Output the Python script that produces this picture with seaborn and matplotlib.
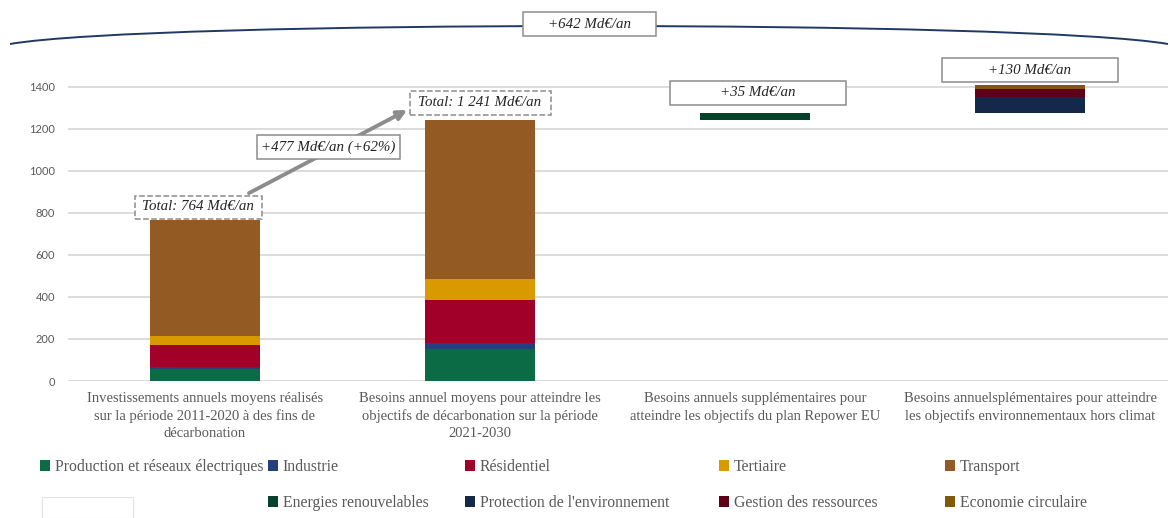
import numpy as np
import pandas as pd
import seaborn as sns
import matplotlib.pyplot as plt
from matplotlib.patches import Patch, Rectangle, PathPatch
from matplotlib.path import Path

# --- data (Md€/an) ---
categories = [
    "Investissements annuels moyens réalisés\nsur la période 2011-2020 à des fins de\ndécarbonation",
    "Besoins annuel moyens pour atteindre les\nobjectifs de décarbonation sur la période\n2021-2030",
    "Besoins annuels supplémentaires pour\natteindre les objectifs du plan Repower EU",
    "Besoins annuelsplémentaires pour atteindre\nles objectifs environnementaux hors climat",
]
series_names = [
    "Production et réseaux électriques", "Industrie", "Résidentiel", "Tertiaire",
    "Transport", "Energies renouvelables", "Protection de l'environnement",
    "Gestion des ressources", "Economie circulaire",
]
production = [56, 151, 0, 0]
industrie = [12, 28, 0, 0]
residentiel = [102, 206, 0, 0]
tertiaire = [46, 100, 0, 0]
transport = [548, 756, 0, 0]
energies = [0, 0, 35, 0]
protection = [0, 0, 0, 74]
gestion = [0, 0, 0, 38]
economie = [0, 0, 0, 18]

colors = ["#0B6B45", "#253F7A", "#A10028", "#D99A00", "#935B23",
          "#05432C", "#15284A", "#5E0017", "#7F5A0B"]

values = [production, industrie, residentiel, tertiaire, transport,
          energies, protection, gestion, economie]
totals = np.array(values).sum(axis=0)
# waterfall: the two extra bars float on top of the 2021-2030 total
base = np.array([0, 0, totals[1], totals[1] + totals[2]], dtype=float)

W, H = 1170, 518
fig = plt.figure(figsize=(W / 100, H / 100), dpi=100)
sns.set_style("white")
serif = "Liberation Serif"
grey = "#595959"

ymax = 1410
ax = fig.add_axes([67.5 / W, 137 / H, 1100 / W, ymax * 0.2102 / H])

bottom = base.copy()
for name, vals, col in zip(series_names, values, colors):
    df = pd.DataFrame({"cat": categories, "val": vals})
    sns.barplot(data=df, x="cat", y="val", order=categories, color=col,
                saturation=1, width=0.4, errorbar=None, bottom=bottom,
                linewidth=0, edgecolor="none", ax=ax, zorder=3)
    bottom = bottom + np.array(vals)

ax.set_ylim(0, ymax)
ax.set_xlim(-0.5, 3.5)
ax.set_yticks(range(0, 1401, 200))
ax.yaxis.grid(True, color="#D9D9D9", linewidth=1.3, zorder=0)
ax.set_axisbelow(True)
for s in ax.spines.values():
    s.set_visible(False)
ax.set_xlabel("")
ax.set_ylabel("")
ax.tick_params(axis="both", length=0)
ax.tick_params(axis="y", pad=9, labelcolor=grey, labelsize=8)
ax.tick_params(axis="x", pad=8)
for t in ax.get_yticklabels():
    t.set_fontfamily("Lato")
for t in ax.get_xticklabels():
    t.set_fontfamily(serif)
    t.set_fontsize(10.5)
    t.set_color(grey)
    t.set_linespacing(1.38)


# --- decorations, placed in figure pixels (top-left origin) ---
def px(x, y):
    return (x / W, 1 - y / H)


def box(cx, cy, w, h, text, ls="-"):
    x0, y0 = px(cx - w / 2, cy + h / 2)
    fig.add_artist(Rectangle((x0, y0), w / W, h / H, transform=fig.transFigure,
                             facecolor="white", edgecolor="#8C8C8C",
                             linewidth=1.1, linestyle=ls, zorder=6))
    fig.text(*px(cx, cy), text, ha="center", va="center", fontfamily=serif,
             style="italic", fontsize=10.8, color="#262626", zorder=7)


def fr(n):
    return f"{n:,}".replace(",", " ")


# arc over the whole chart
verts = [px(10, 44), px(150, 20), px(1028, 20), px(1168, 44)]
arc = Path(verts, [Path.MOVETO, Path.CURVE4, Path.CURVE4, Path.CURVE4])
fig.add_artist(PathPatch(arc, transform=fig.transFigure, facecolor="none",
                         edgecolor="#1F3864", linewidth=1.4, zorder=5))
gap_total = totals[1] - totals[0] + totals[2] + totals[3]
box(589, 24, 133, 24, f"+{gap_total} Md€/an")

# growth arrow
ax.annotate("", xy=(0.735, 1289), xytext=(0.16, 894),
            arrowprops=dict(arrowstyle="-|>", color="#8C8C8C", lw=2.8,
                            mutation_scale=14, shrinkA=0, shrinkB=0),
            zorder=4, annotation_clip=False)
pct = round((totals[1] - totals[0]) / totals[0] * 100)
box(328, 147, 143, 24, f"+{totals[1] - totals[0]} Md€/an (+{pct}%)")
box(198, 207, 127, 23, f"Total: {fr(totals[0])} Md€/an", ls="--")
box(480, 103, 141, 24, f"Total: {fr(totals[1])} Md€/an", ls="--")
box(758, 93, 176, 23, f"+{totals[2]} Md€/an")
box(1030, 70, 176, 24, f"+{totals[3]} Md€/an")

# --- legend, one entry per slot ---
slots = [(40, 467), (268, 467), (465, 467), (719, 467), (945, 467),
         (268, 503), (465, 503), (719, 503), (945, 503)]
for name, col, (lx, ly) in zip(series_names, colors, slots):
    fig.legend(handles=[Patch(facecolor=col, edgecolor="none")], labels=[name],
               loc="center left", bbox_to_anchor=px(lx, ly), frameon=False,
               borderpad=0, borderaxespad=0, handlelength=0.65, handleheight=0.65,
               handletextpad=0.3, prop={"family": serif, "size": 11.3},
               labelcolor=grey)
fig.add_artist(Rectangle(px(42, 518), 91 / W, 21 / H, transform=fig.transFigure,
                         facecolor="white", edgecolor="#E3E3E3", linewidth=0.8))

fig.savefig("out.png", dpi=100)
